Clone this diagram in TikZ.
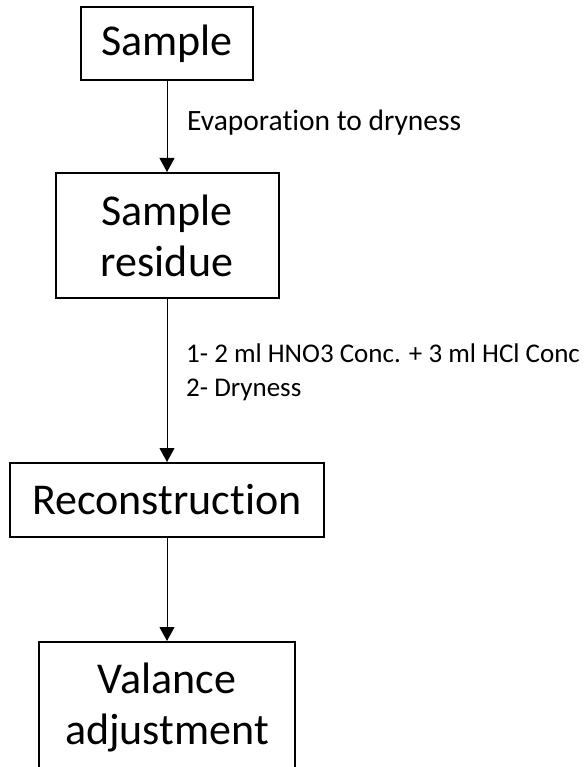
\documentclass[tikz,border=0pt]{standalone}
\usepackage{fontspec}
\setmainfont{Carlito}[Ligatures=NoCommon]
\usetikzlibrary{arrows.meta}

\begin{document}
\begin{tikzpicture}[x=1pt,y=-1pt,
		box/.style={draw, line width=2pt, inner sep=0pt, align=center, font=\fontsize{44}{51}\selectfont},
		flow/.style={line width=1pt, -{Triangle[width=15pt,length=14pt]}},
		note/.style={inner sep=0pt, anchor=west, align=left, font=\fontsize{27}{34}\selectfont}]
		\useasboundingbox (0,0) rectangle (585,767);
		
		\node [box, minimum width=172pt, minimum height=73pt] (sample) at (167,43.5) {Sample};
		\node [box, minimum width=223pt, minimum height=125pt] (residue) at (167,235.5) {Sample\\residue};
		\node [box, minimum width=314pt, minimum height=74pt] (recon) at (167,500) {Reconstruction};
		\node [box, minimum width=256pt, minimum height=130pt] (valance) at (167,707) {Valance\\adjustment};
		
		\draw [flow] (sample) -- (residue);
		\draw [flow] (residue) -- (recon);
		\draw [flow] (recon) -- (valance);
		
		\node [note, font=\fontsize{29.5}{34}\selectfont] (evap) at (187,123) {Evaporation to dryness};
		\node [note] (acid) at (186,372) {1- 2 ml HNO3 Conc. + 3 ml HCl Conc\\2- Dryness};
	\end{tikzpicture}
\end{document}
